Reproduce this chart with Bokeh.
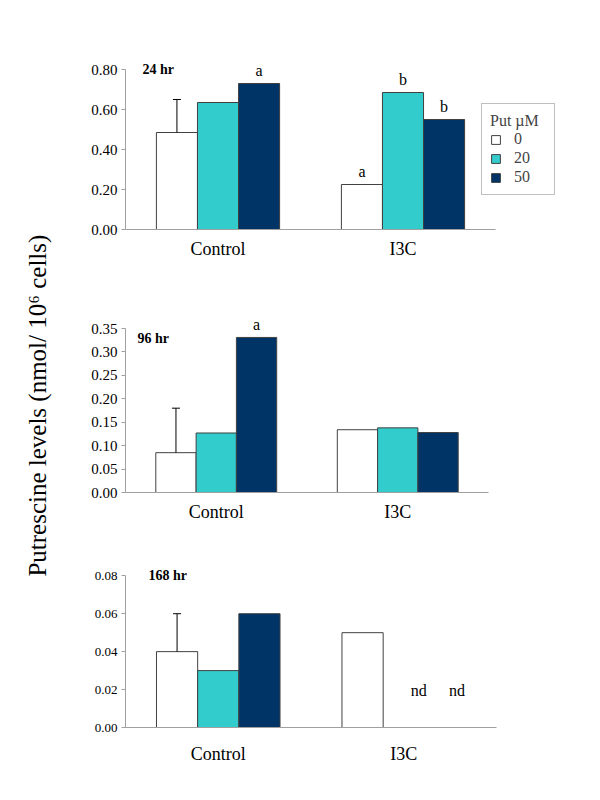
import math
import numpy as np
from bokeh.plotting import figure
from bokeh.layouts import row, column
from bokeh.models import (ColumnDataSource, Range1d, FixedTicker,
                          NumeralTickFormatter, Legend, LegendItem, Label)
from bokeh.transform import dodge
from bokeh.core.properties import value
from bokeh.embed import file_html
from bokeh.resources import INLINE

# ---------------- data ----------------
groups = ["Control", "I3C"]
put_um = ["0", "20", "50"]
colors = ["#FFFFFF", "#33CCCC", "#003366"]

h24_put0 = [0.485, 0.225]
h24_put20 = [0.635, 0.685]
h24_put50 = [0.730, 0.550]
h24_err_top = 0.65          # upper error of Control / 0 µM
h24_letters = [("Control", 2, "a"), ("I3C", 0, "a"), ("I3C", 1, "b"), ("I3C", 2, "b")]
h24_ticks = [0.0, 0.2, 0.4, 0.6, 0.8]

h96_put0 = [0.085, 0.134]
h96_put20 = [0.127, 0.138]
h96_put50 = [0.331, 0.128]
h96_err_top = 0.18
h96_letters = [("Control", 2, "a")]
h96_ticks = [0.0, 0.05, 0.10, 0.15, 0.20, 0.25, 0.30, 0.35]

h168_put0 = [0.040, 0.050]
h168_put20 = [0.030, float("nan")]
h168_put50 = [0.060, float("nan")]
h168_err_top = 0.06
h168_nd = [("I3C", 1), ("I3C", 2)]
h168_ticks = [0.0, 0.02, 0.04, 0.06, 0.08]

FONT = "Liberation Serif"
AXIS_GRAY = "#A0A0A0"
BAR_EDGE = "#404040"
BW = 0.222
OFFS = [-BW, 0.0, BW]
NG = len(groups)
xpos = [i + 0.5 for i in range(NG)]


def make_panel(vals, err_top, letters, ticks, ytop, title, title_x, title_y,
               frame_w, axis_w, frame_h, bl, br, bt, bb, tick_size, cat_standoff,
               nd=None, nd_y=None, legend_loc=None):
    xend = NG * frame_w / axis_w
    p = figure(x_range=Range1d(0, xend), y_range=Range1d(0, ytop),
               frame_width=frame_w, frame_height=frame_h,
               min_border_left=bl, min_border_right=br, min_border_top=bt,
               min_border_bottom=bb, toolbar_location=None, output_backend="svg")
    p.outline_line_color = None
    p.xgrid.visible = False
    p.ygrid.visible = False
    p.background_fill_color = "white"

    src = ColumnDataSource(dict(x=xpos, v0=vals[0], v1=vals[1], v2=vals[2]))
    rends = []
    for s in range(3):
        r = p.vbar(x=dodge("x", OFFS[s]), top="v%d" % s, width=BW,
                   source=src, fill_color=colors[s], line_color=BAR_EDGE, line_width=1)
        rends.append(r)

    # error bar (upper only) on Control / 0
    esrc = ColumnDataSource(dict(x=[xpos[0]], y0=[vals[0][0]], y1=[err_top]))
    p.segment(x0=dodge("x", OFFS[0]), y0="y0", x1=dodge("x", OFFS[0]), y1="y1",
              source=esrc, line_color="black", line_width=1)
    p.scatter(x=dodge("x", OFFS[0]), y="y1", source=esrc,
              marker="dash", size=8, line_color="black", line_width=1)

    # significance letters
    for s in range(3):
        items = [(g, t) for (g, si, t) in letters if si == s]
        if not items:
            continue
        lsrc = ColumnDataSource(dict(x=[xpos[groups.index(g)] for g, _ in items],
                                     y=[vals[s][groups.index(g)] for g, _ in items],
                                     t=[t for _, t in items]))
        p.text(x=dodge("x", OFFS[s]), y="y", text="t", source=lsrc,
               text_font=value(FONT), text_font_size="16px", text_align="center",
               text_baseline="alphabetic", y_offset=-13, text_color="black")

    if nd:
        for k, (g, s) in enumerate(nd):
            nsrc = ColumnDataSource(dict(x=[xpos[groups.index(g)]], y=[nd_y], t=["nd"]))
            p.text(x=dodge("x", OFFS[s]), y="y", text="t", source=nsrc,
                   text_font=value(FONT), text_font_size="16px", text_align="center",
                   text_baseline="middle", x_offset=15 - 3 * k, text_color="black")

    p.add_layout(Label(x=title_x, x_units="screen", y=title_y, text=title,
                       text_font=FONT, text_font_size="14px", text_font_style="bold",
                       text_baseline="middle", text_color="black"))

    # axes
    ya = p.yaxis[0]
    ya.ticker = FixedTicker(ticks=ticks)
    ya.formatter = NumeralTickFormatter(format="0.00")
    ya.bounds = (0, ticks[-1])
    ya.axis_line_color = AXIS_GRAY
    ya.major_tick_line_color = AXIS_GRAY
    ya.major_tick_out = 4
    ya.major_tick_in = 0
    ya.minor_tick_line_color = None
    ya.major_label_text_font = FONT
    ya.major_label_text_font_size = tick_size
    ya.major_label_text_color = "black"
    ya.major_label_standoff = 4

    xa = p.xaxis[0]
    xa.ticker = FixedTicker(ticks=xpos)
    xa.major_label_overrides = {xv: g for xv, g in zip(xpos, groups)}
    xa.bounds = (0, NG)
    xa.axis_line_color = AXIS_GRAY
    xa.major_tick_line_color = None
    xa.minor_tick_line_color = None
    xa.major_label_text_font = FONT
    xa.major_label_text_font_size = "18px"
    xa.major_label_text_color = "black"
    xa.major_label_standoff = cat_standoff

    if legend_loc is not None:
        legend = Legend(items=[LegendItem(label=put_um[s], renderers=[rends[s]]) for s in range(3)],
                        location=legend_loc, title="Put µM",
                        title_text_font=FONT, title_text_font_size="16px",
                        title_text_font_style="normal", title_standoff=-1,
                        label_text_font=FONT, label_text_font_size="16px",
                        glyph_width=11, glyph_height=11, label_height=16,
                        label_width=32, label_standoff=13, spacing=1, padding=8, margin=0,
                        border_line_color="#808080", border_line_width=1,
                        background_fill_color="white", background_fill_alpha=1.0)
        p.add_layout(legend)
    return p


p1 = make_panel([h24_put0, h24_put20, h24_put50], h24_err_top, h24_letters, h24_ticks,
                0.86, "24 hr", 17, 0.80, 435, 370, 172, 45, 32, 57, 61, "15px", 3,
                legend_loc=(356, 34))
p2 = make_panel([h96_put0, h96_put20, h96_put50], h96_err_top, h96_letters, h96_ticks,
                0.38, "96 hr", 12, 0.329, 363, 363, 178, 52, 97, 24, 48, "15px", 3)
p3 = make_panel([h168_put0, h168_put20, h168_put50], h168_err_top, [], h168_ticks,
                0.087, "168 hr", 23, 0.080, 371, 371, 165, 43, 98, 22, 63, "13px", 10,
                nd=h168_nd, nd_y=0.0195)

lab = figure(width=73, height=790, x_range=Range1d(0, 73), y_range=Range1d(0, 790),
             toolbar_location=None, output_backend="svg", min_border=0)
lab.axis.visible = False
lab.grid.visible = False
lab.outline_line_color = None
lab.add_layout(Label(x=37, y=388, x_units="screen", y_units="screen",
                     text="Putrescine levels  (nmol/ 10\u2076 cells)", angle=math.pi / 2,
                     text_font=FONT, text_font_size="25px", text_align="center",
                     text_baseline="middle", text_color="black"))

layout = row(lab, column(p1, p2, p3))
open("out.html", "w").write(file_html(layout, INLINE))
